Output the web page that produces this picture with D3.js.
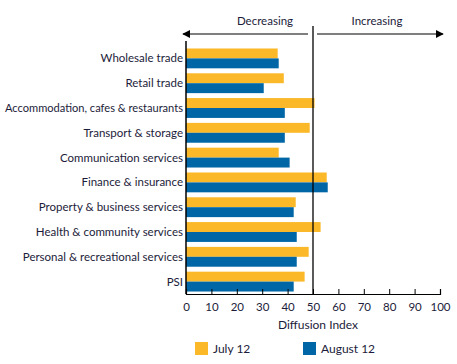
<!DOCTYPE html>
<html><head><meta charset="utf-8">
<script src="https://cdn.jsdelivr.net/npm/d3@7/dist/d3.min.js"></script>
<style>body{margin:0;background:#fff}svg{display:block}text{font-family:Lato,"Noto Sans",sans-serif;fill:#1c1c3a}</style>
</head><body><svg id="c" width="457" height="364"></svg>
<script>
const categories = ["Wholesale trade","Retail trade","Accommodation, cafes & restaurants","Transport & storage","Communication services","Finance & insurance","Property & business services","Health & community services","Personal & recreational services","PSI"];
const july12 = [36.1,38.5,50.6,48.7,36.5,55.4,43.2,53.0,48.3,46.7];
const august12 = [36.5,30.6,38.9,38.9,40.8,55.8,42.4,43.6,43.6,42.4];
const seriesNames = ["July 12","August 12"];
const tickValues = [0,10,20,30,40,50,60,70,80,90,100];
const colors = ["#fbb829","#0066a6"];

const svg = d3.select("#c");
const x = d3.scaleLinear().domain([0,100]).range([186,440]);
const y = d3.scaleBand().domain(categories).range([46,294]).paddingInner(0.2).paddingOuter(0.1);
const sub = d3.scaleBand().domain([0,1]).range([0,y.bandwidth()]);

const g = svg.append("g");
categories.forEach((c,i)=>{
  [july12[i],august12[i]].forEach((v,j)=>{
    g.append("rect").attr("x",x(0)).attr("y",y(c)+sub(j)).attr("width",x(v)-x(0)).attr("height",sub.bandwidth()).attr("fill",colors[j]);
  });
  const t = svg.append("text").attr("x",183).attr("y",y(c)+y.bandwidth()/2).attr("dy","0.35em").attr("text-anchor","end").attr("font-size",11.5).text(c);
  const w = t.node().getComputedTextLength();
  if (w > 178) t.attr("textLength",178).attr("lengthAdjust","spacingAndGlyphs");
});

// x axis with inward ticks
const ax = svg.append("g").attr("transform","translate(0,294)")
  .call(d3.axisBottom(x).tickValues(tickValues).tickSize(-5).tickPadding(9));
ax.select(".domain").attr("stroke","#000").attr("stroke-width",1.2);
ax.selectAll(".tick line").attr("stroke","#000");
ax.selectAll("text").attr("font-size",11.5).style("font-family","Lato,'Noto Sans',sans-serif").attr("fill","#1c1c3a");

// left axis line
svg.append("line").attr("x1",x(0)).attr("x2",x(0)).attr("y1",41).attr("y2",294).attr("stroke","#000").attr("stroke-width",1.5);
// 50 divider
svg.append("line").attr("x1",x(50)).attr("x2",x(50)).attr("y1",26).attr("y2",294).attr("stroke","#000").attr("stroke-width",1.3);

// arrows
const defs = svg.append("defs");
defs.append("marker").attr("id","ah").attr("viewBox","0 0 10 10").attr("refX",9).attr("refY",5)
  .attr("markerWidth",8).attr("markerHeight",8).attr("markerUnits","userSpaceOnUse").attr("orient","auto-start-reverse")
  .append("path").attr("d","M0,0L10,5L0,10z").attr("fill","#000");
svg.append("line").attr("x1",x(50)-5).attr("x2",183).attr("y1",34).attr("y2",34).attr("stroke","#000").attr("stroke-width",1.2).attr("marker-end","url(#ah)");
svg.append("line").attr("x1",x(50)+4).attr("x2",443).attr("y1",34).attr("y2",34).attr("stroke","#000").attr("stroke-width",1.2).attr("marker-end","url(#ah)");
svg.append("text").attr("x",265).attr("y",25).attr("text-anchor","middle").attr("font-size",11.5).text("Decreasing");
svg.append("text").attr("x",377).attr("y",25).attr("text-anchor","middle").attr("font-size",11.5).text("Increasing");

svg.append("text").attr("x",318).attr("y",329).attr("text-anchor","middle").attr("font-size",12).text("Diffusion Index");

// legend
const lx = [195,303];
seriesNames.forEach((s,i)=>{
  svg.append("rect").attr("x",lx[i]).attr("y",342).attr("width",13).attr("height",13).attr("fill",colors[i]);
  svg.append("text").attr("x",lx[i]+18).attr("y",348.5).attr("dy","0.35em").attr("font-size",12).text(s);
});
</script></body></html>
